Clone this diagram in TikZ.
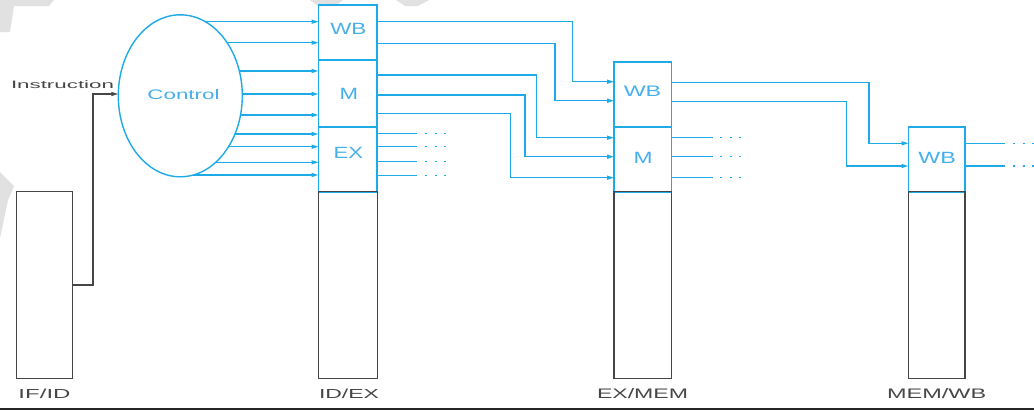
\documentclass[tikz,border=0pt]{standalone}
\usepackage{fontspec}
\setmainfont{Liberation Sans}
\usetikzlibrary{arrows.meta,backgrounds,shapes.geometric}
\definecolor{cblue}{RGB}{30,170,230}
\definecolor{tblue}{RGB}{70,175,235}
\definecolor{rgray}{RGB}{70,70,70}
\definecolor{wmark}{RGB}{225,225,225}
\newcommand\fitlbl[3]{\resizebox{#1pt}{#2pt}{#3}}
\begin{document}
\begin{tikzpicture}[x=1pt,y=-1pt,
  wire/.style={cblue, line width=1.3pt},
  arr/.style={-{Triangle[length=7pt,width=4pt]}},
  sect/.style={draw=cblue, line width=1.8pt, anchor=north west, inner sep=0pt, outer sep=0pt},
  lowbox/.style={draw=rgray, line width=1.4pt, anchor=north west, inner sep=0pt, outer sep=0pt},
  blbl/.style={text=tblue, inner sep=0pt},
  glbl/.style={text=rgray, inner sep=0pt},
  dots/.style={cblue, line width=1.2pt, dash pattern=on 2pt off 7.5pt},
  blk/.style={rgray, line width=1.3pt},
]
\useasboundingbox (0,0) rectangle (1034,410);

% faint background marks
\fill[wmark] (0,0) -- (54,0) -- (49,6) -- (14,6) -- (10,32) -- (0,32) -- cycle;
\fill[wmark] (310,0) -- (343,0) -- (335,6) -- (318,6) -- cycle;
\fill[wmark] (396,0) -- (429,0) -- (418,6) -- (405,6) -- cycle;
\fill[wmark] (0,172) -- (14,186) -- (8,200) -- (0,238) -- cycle;

% control ellipse
\node[draw=cblue, line width=1.4pt, fill=white, ellipse, minimum width=124pt, minimum height=162pt, inner sep=0pt, outer sep=0pt] (ctrl) at (180.3,95.8) {};
\node[blbl] (lctrl) at (183.5,94.3) {\fitlbl{72}{10}{Control}};

% IF/ID
\node[lowbox, minimum width=56pt, minimum height=186.6pt] (ifid) at (16.5,191.7) {};

% ID/EX
\node[sect, minimum width=58.8pt, minimum height=55pt] (idexWB) at (318.5,5) {};
\node[sect, minimum width=58.8pt, minimum height=67pt] (idexM) at (318.5,60) {};
\node[sect, minimum width=58.8pt, minimum height=64.7pt] (idexEX) at (318.5,127) {};
\node[lowbox, minimum width=58.8pt, minimum height=186.6pt] (idex) at (318.5,191.7) {};
\node[blbl] (l1) at (348.3,29.2) {\fitlbl{36}{11.2}{WB}};
\node[blbl] (l2) at (348.8,94.2) {\fitlbl{18.5}{11.2}{M}};
\node[blbl] (l3) at (348.3,153.2) {\fitlbl{29.5}{11.2}{EX}};

% EX/MEM
\node[sect, minimum width=57.5pt, minimum height=65pt] (exmemWB) at (614,61.7) {};
\node[sect, minimum width=57.5pt, minimum height=65pt] (exmemM) at (614,126.7) {};
\node[lowbox, minimum width=57.5pt, minimum height=186.6pt] (exmem) at (614,191.7) {};
\node[blbl] (l4) at (642.5,91.7) {\fitlbl{37.5}{10.5}{WB}};
\node[blbl] (l5) at (643,157.5) {\fitlbl{19}{11.2}{M}};

% MEM/WB
\node[sect, minimum width=56.5pt, minimum height=64.4pt] (memwbWB) at (908.5,127.3) {};
\node[lowbox, minimum width=56.5pt, minimum height=186.6pt] (memwb) at (908.5,191.7) {};
\node[blbl] (l6) at (937.2,157.5) {\fitlbl{37.5}{11.2}{WB}};

% bottom labels
\node[glbl] (nifid) at (44.5,394) {\fitlbl{52}{9.5}{IF/ID}};
\node[glbl] (nidex) at (349,394) {\fitlbl{60}{9.5}{ID/EX}};
\node[glbl] (nexmem) at (642.5,394) {\fitlbl{91}{10}{EX/MEM}};
\node[glbl] (nmemwb) at (936.7,394) {\fitlbl{99}{10}{MEM/WB}};
\node[glbl] (linstr) at (62.5,84.5) {\fitlbl{103}{7.8}{Instruction}};

% instruction wire
\draw[blk, arr] (ifid.east |- 0,285) -| (93,94) -- (ctrl.west |- 0,94);

% control outputs (behind ellipse)
\begin{scope}[on background layer]
\foreach \y in {21.7,42.7} \draw[wire,arr] (ctrl.center |- 0,\y) -- (idexWB.west |- 0,\y);
\foreach \y in {71,94,115} \draw[wire,arr] (ctrl.center |- 0,\y) -- (idexM.west |- 0,\y);
\foreach \y in {134,146.7,162.3,175} \draw[wire,arr] (ctrl.center |- 0,\y) -- (idexEX.west |- 0,\y);
\end{scope}

% ID/EX -> EX/MEM
\draw[wire,arr] (idexWB.east |- 0,21.7) -| (572.7,81.7) -- (exmemWB.west |- 0,81.7);
\draw[wire,arr] (idexWB.east |- 0,43.3) -| (555,100.7) -- (exmemWB.west |- 0,100.7);
\draw[wire,arr] (idexM.east |- 0,75) -| (536.7,137.7) -- (exmemM.west |- 0,137.7);
\draw[wire,arr] (idexM.east |- 0,95) -| (525,156.7) -- (exmemM.west |- 0,156.7);
\draw[wire,arr] (idexM.east |- 0,113.3) -| (510.7,177.7) -- (exmemM.west |- 0,177.7);
\foreach \y in {133.3,146.7,161.7,175.7} {
  \draw[wire] (idexEX.east |- 0,\y) -- (416.7,\y);
  \draw[dots] (425,\y) -- (447,\y);
}

% EX/MEM -> MEM/WB
\draw[wire,arr] (exmemWB.east |- 0,82.7) -| (869,143.3) -- (memwbWB.west |- 0,143.3);
\draw[wire,arr] (exmemWB.east |- 0,101.3) -| (846.7,166) -- (memwbWB.west |- 0,166);
\foreach \y in {137.7,156.7,177.7} {
  \draw[wire] (exmemM.east |- 0,\y) -- (713,\y);
  \draw[dots] (720,\y) -- (742,\y);
}
\foreach \y in {143.3,166} {
  \draw[wire] (memwbWB.east |- 0,\y) -- (1005,\y);
  \draw[dots] (1013,\y) -- (1035,\y);
}

% bottom rule
\draw[line width=2pt, black!85] (0,408.5) -- (1034,408.5);
\end{tikzpicture}
\end{document}
